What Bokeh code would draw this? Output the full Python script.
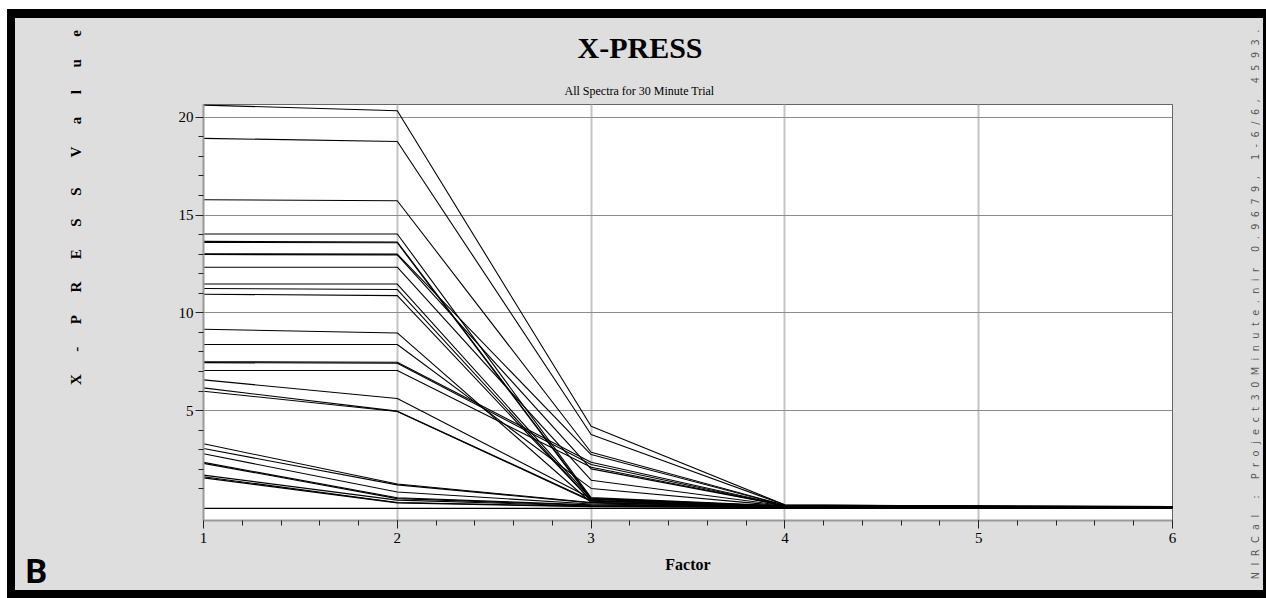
import math
from bokeh.plotting import figure
from bokeh.models import Label, FixedTicker, Range1d, Title
from bokeh.embed import file_html
from bokeh.resources import INLINE

# ---- data (X-PRESS value per factor, one entry per spectrum) ----
factors = [1, 2, 3, 4, 5, 6]
f1 = [20.62, 18.92, 15.78, 14.03, 13.65, 13.60, 13.02, 12.98, 12.33, 11.47, 11.24, 10.95,
      9.16, 8.38, 7.50, 7.45, 7.05, 6.57, 6.16, 5.99, 3.30, 3.06, 2.79, 2.35, 2.30, 1.70, 1.62, 1.56, 0.0]
f2 = [20.33, 18.76, 15.73, 14.03, 13.62, 13.58, 13.00, 12.96, 12.33, 11.47, 11.19, 10.88,
      8.97, 8.38, 7.47, 7.42, 7.05, 5.62, 4.97, 4.95, 1.25, 1.20, 0.84, 0.54, 0.50, 0.42, 0.30, 0.28, 0.0]
f3 = [4.20, 3.78, 2.87, 0.55, 0.50, 0.45, 2.75, 2.02, 1.44, 0.48, 0.40, 0.38,
      0.30, 1.02, 2.36, 2.24, 2.10, 0.50, 0.40, 0.37, 0.30, 0.28, 0.22, 0.18, 0.15, 0.12, 0.10, 0.08, 0.0]
f4 = [0.18, 0.17, 0.16, 0.12, 0.12, 0.11, 0.15, 0.14, 0.13, 0.11, 0.10, 0.10,
      0.10, 0.12, 0.15, 0.14, 0.14, 0.10, 0.10, 0.09, 0.09, 0.08, 0.08, 0.07, 0.07, 0.06, 0.06, 0.05, 0.0]
f5 = [0.12, 0.12, 0.11, 0.09, 0.09, 0.08, 0.10, 0.10, 0.09, 0.08, 0.08, 0.08,
      0.07, 0.08, 0.10, 0.10, 0.09, 0.07, 0.07, 0.07, 0.06, 0.06, 0.06, 0.05, 0.05, 0.05, 0.04, 0.04, 0.0]
f6 = [0.09, 0.09, 0.08, 0.07, 0.07, 0.06, 0.08, 0.08, 0.07, 0.06, 0.06, 0.06,
      0.05, 0.06, 0.08, 0.07, 0.07, 0.05, 0.05, 0.05, 0.04, 0.04, 0.04, 0.04, 0.03, 0.03, 0.03, 0.03, 0.0]

y_major = [5, 10, 15, 20]
y_minor = [v for v in range(1, 20) if v % 5 != 0]
x_major = [1, 2, 3, 4, 5, 6]
x_minor = [round(1 + 0.2 * i, 1) for i in range(26)]

title_text = "X-PRESS"
subtitle_text = "All Spectra for 30 Minute Trial"
x_label = "Factor"
y_label = "X - P R E S S   V a l u e"
side_note = "NIRCal : Project30Minute.nir 0.9679, 1-6/6, 4593."
panel_tag = "B"

SERIF = "Liberation Serif"

p = figure(width=1266, height=598, output_backend="svg", toolbar_location=None,
           x_range=Range1d(1, 6), y_range=Range1d(-0.62, 20.65),
           min_border_left=203, min_border_right=94, min_border_top=104, min_border_bottom=78,
           background_fill_color="white", border_fill_color=None)
p.title = None
p.styles = {
    "background-color": "#dedede",
    "box-shadow": ("inset 0 9px 0 0 #fff, inset 7px 0 0 0 #fff, "
                   "inset 0 18px 0 0 #000, inset 15px 0 0 0 #000, "
                   "inset -3px 0 0 0 #000, inset 0 -8px 0 0 #000"),
}
p.outline_line_color = "#666666"
p.outline_line_width = 1

xs = [factors for _ in f1]
ys = [[a, b, c, d, e, f] for a, b, c, d, e, f in zip(f1, f2, f3, f4, f5, f6)]
p.multi_line(xs, ys, line_color="black", line_width=1.1)

# axes
for ax in (p.xaxis[0], p.yaxis[0]):
    ax.axis_line_color = "#999999"
    ax.axis_line_width = 2
    ax.major_tick_line_color = "#222222"
    ax.minor_tick_line_color = "#222222"
    ax.major_tick_in = 0
    ax.minor_tick_in = 0
    ax.major_tick_out = 8
    ax.minor_tick_out = 5
    ax.major_label_text_font = SERIF
    ax.major_label_text_font_size = "15px"
    ax.major_label_text_color = "black"
    ax.axis_label_text_font = SERIF
    ax.axis_label_text_font_style = "bold"
    ax.axis_label_text_color = "black"
p.xaxis.ticker = FixedTicker(ticks=x_major, minor_ticks=x_minor)
p.yaxis.ticker = FixedTicker(ticks=y_major, minor_ticks=y_minor)
p.xaxis.major_label_standoff = 4
p.yaxis.major_label_standoff = 2

p.xaxis.axis_label = x_label
p.xaxis.axis_label_text_font_size = "16px"
p.xaxis.axis_label_standoff = 10

# y label: letter-spaced, shifted toward the top with leading blank space
ylab_spaced = y_label.replace("   ", "\u2003\u2003").replace(" ", "\u2003\u2002")
p.yaxis.axis_label = "\u2003" * 14 + ylab_spaced
p.yaxis.axis_label_text_font_size = "15px"
p.yaxis.axis_label_standoff = 92

p.xgrid.ticker = FixedTicker(ticks=x_major)
p.ygrid.ticker = FixedTicker(ticks=y_major)
p.xgrid.grid_line_color = "#c4c4c4"
p.xgrid.grid_line_width = 2
p.ygrid.grid_line_color = "#8c8c8c"
p.ygrid.grid_line_width = 1

# titles (later-added one sits farther from the frame)
p.add_layout(Title(text=subtitle_text, align="left", offset=361, standoff=14,
                   text_font=SERIF, text_font_size="12px", text_font_style="normal",
                   text_color="black"), "above")
p.add_layout(Title(text=title_text, align="left", offset=374, standoff=22,
                   text_font=SERIF, text_font_size="30px", text_font_style="bold",
                   text_color="black"), "above")

# free texts placed in side panels (not clipped by the frame)
note_spaced = "\u2002\u2006".join(side_note).replace("\u2002\u2006 \u2002\u2006", "\u2003\u2002\u2006")
p.add_layout(Label(x=83, y=216, x_units="screen", y_units="screen", text=note_spaced,
                   angle=math.pi / 2, text_font="DejaVu Sans", text_font_size="9.7px",
                   text_align="center", text_baseline="middle", text_color="#5a5a5a"), "right")
p.add_layout(Label(x=-17, y=-50, x_units="screen", y_units="screen", text=panel_tag,
                   text_font="Roboto", text_font_style="bold", text_font_size="34px",
                   text_align="left", text_baseline="alphabetic", text_color="black"), "left")

open("out.html", "w").write(file_html(p, INLINE))
